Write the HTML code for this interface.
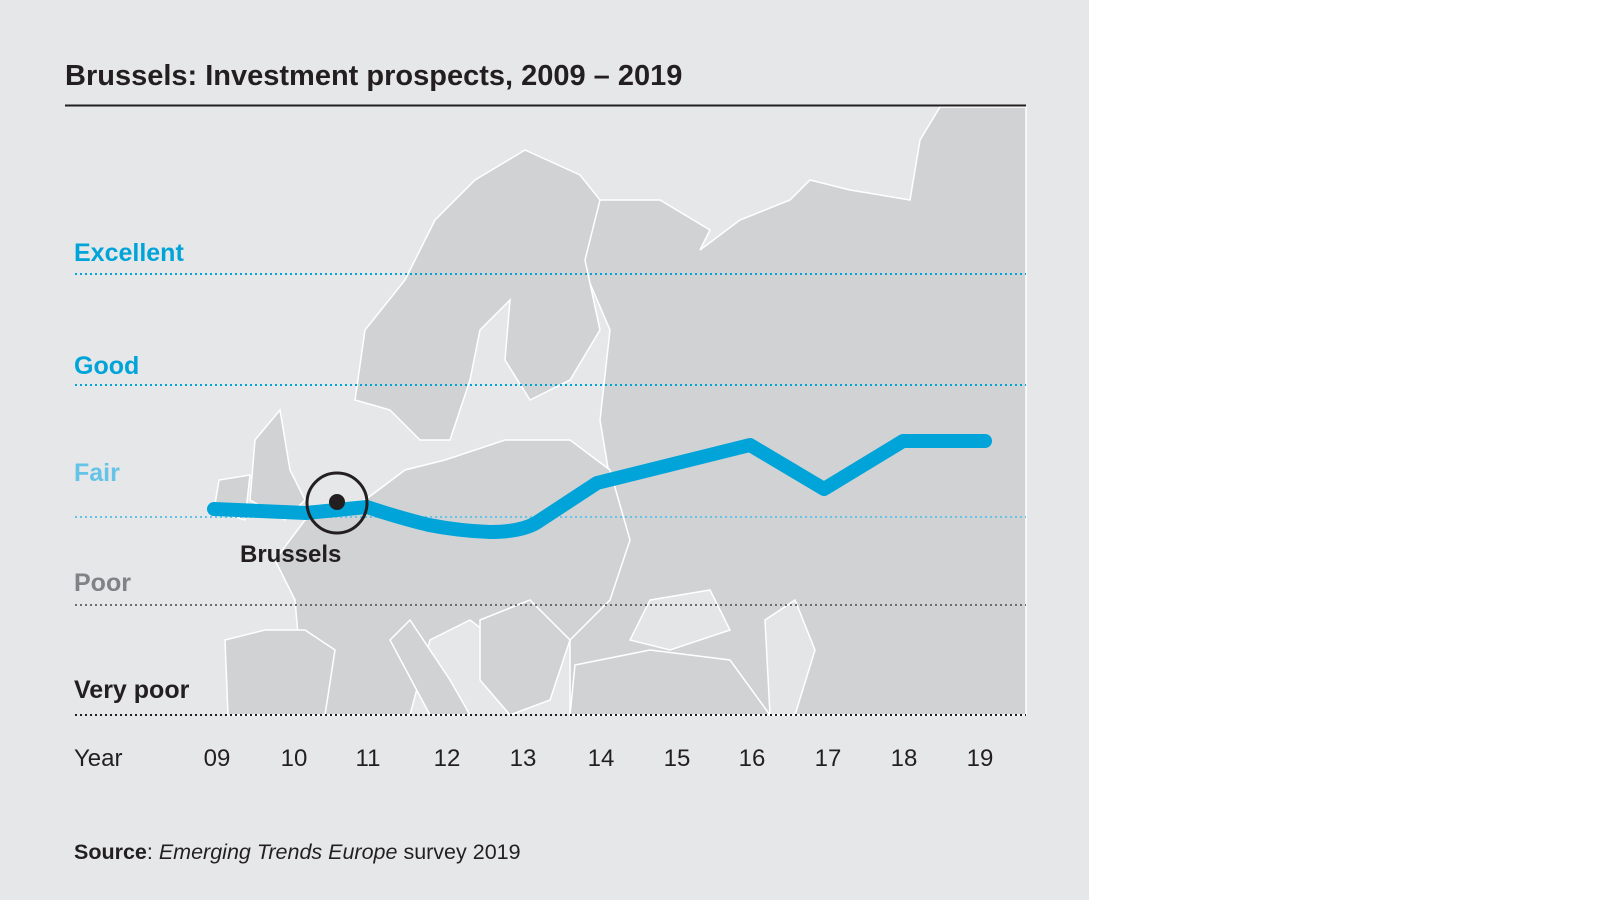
<!DOCTYPE html>
<html><head><meta charset="utf-8"><style>
body{margin:0;width:1600px;height:900px;background:#fff;overflow:hidden;font-family:"Liberation Sans",sans-serif}
#p{position:absolute;left:0;top:0;width:1089px;height:900px;background:#e6e7e8}
</style></head><body><div id="p"></div>
<svg width="1600" height="900" style="position:absolute;left:0;top:0" font-family="Liberation Sans, sans-serif">
<g fill="#d1d2d4" stroke="#fff" stroke-width="1.5">
<path d="M570 715 L570 540 L610 480 L600 420 L610 330 L580 260 L600 200 L660 200 L710 230 L700 250 L740 220 L790 200 L810 180 L850 190 L910 200 L920 140 L940 107 L1026 107 L1026 715 Z"/>
<path d="M355 400 L365 330 L405 280 L435 220 L475 180 L525 150 L580 175 L600 200 L585 260 L600 330 L570 380 L530 400 L505 360 L510 300 L480 330 L470 380 L450 440 L420 440 L390 410 Z"/>
<path d="M305 715 L295 600 L275 560 L305 520 L365 500 L405 470 L445 460 L505 440 L570 440 L610 470 L630 540 L610 600 L570 640 L510 650 L470 620 L430 640 L410 715 Z"/>
<path d="M228 715 L225 640 L265 630 L305 630 L335 650 L325 715 Z"/>
<path d="M250 500 L255 440 L280 410 L290 470 L305 500 L285 520 Z"/>
<path d="M214 510 L219 480 L250 475 L245 520 Z"/>
<path d="M570 715 L575 665 L650 650 L730 660 L770 715 Z"/>
<path d="M390 640 L410 620 L450 680 L470 715 L430 715 Z"/>
<path d="M480 620 L530 600 L570 640 L550 700 L510 715 L480 680 Z"/>
</g>
<g fill="#e4e5e6" stroke="#fff" stroke-width="1.5">
<path d="M650 600 L710 590 L730 630 L670 650 L630 640 Z"/>
<path d="M765 620 L795 600 L815 650 L795 715 L770 715 Z"/>
</g>
<text x="65" y="85" font-size="29" font-weight="bold" fill="#231f20">Brussels: Investment prospects, 2009 – 2019</text>
<line x1="65" y1="105.5" x2="1026" y2="105.5" stroke="#231f20" stroke-width="2"/>
<g stroke-width="2" stroke-dasharray="2 3">
<line x1="75" y1="274" x2="1026" y2="274" stroke="#00a4d9"/>
<line x1="75" y1="385" x2="1026" y2="385" stroke="#00a4d9"/>
<line x1="75" y1="517" x2="1026" y2="517" stroke="#66c3e8"/>
<line x1="75" y1="605" x2="1026" y2="605" stroke="#6d6e70"/>
<line x1="75" y1="715" x2="1026" y2="715" stroke="#231f20"/>
</g>
<g font-size="25" font-weight="bold">
<text x="74" y="261" fill="#00a4d9">Excellent</text>
<text x="74" y="374" fill="#00a4d9">Good</text>
<text x="74" y="481" fill="#66c3e8">Fair</text>
<text x="74" y="591" fill="#808285">Poor</text>
<text x="74" y="698" fill="#231f20">Very poor</text>
</g>
<g font-size="24" fill="#231f20" text-anchor="middle">
<text x="74" y="766" text-anchor="start">Year</text>
<text x="217" y="766">09</text><text x="294" y="766">10</text><text x="368" y="766">11</text>
<text x="447" y="766">12</text><text x="523" y="766">13</text><text x="601" y="766">14</text>
<text x="677" y="766">15</text><text x="752" y="766">16</text><text x="828" y="766">17</text>
<text x="904" y="766">18</text><text x="980" y="766">19</text>
</g>
<path d="M214 509 L306 513 L367 507 Q400 518 429 525 Q460 531 490 532 Q520 532 536 523 L597 483 L750 445 L824 489 L903 441 L985 441" fill="none" stroke="#00a4d9" stroke-width="14" stroke-linecap="round" stroke-linejoin="round"/>
<circle cx="337" cy="503" r="30" fill="none" stroke="#231f20" stroke-width="3"/>
<circle cx="337" cy="502" r="8" fill="#231f20"/>
<text x="240" y="562" font-size="24" font-weight="bold" fill="#231f20">Brussels</text>
<text x="74" y="859" font-size="21.5" fill="#231f20"><tspan font-weight="bold">Source</tspan>: <tspan font-style="italic">Emerging Trends Europe</tspan> survey 2019</text>
</svg></body></html>
